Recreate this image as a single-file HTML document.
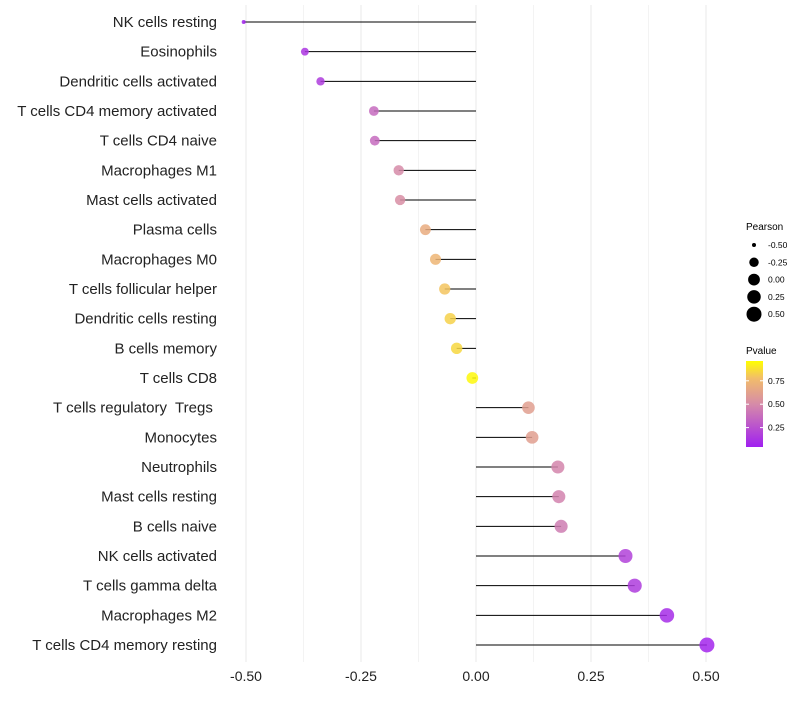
<!DOCTYPE html>
<html><head><meta charset="utf-8"><style>
body{margin:0;background:#fff;font-family:"Liberation Sans",sans-serif}
svg text{font-family:"Liberation Sans",sans-serif;white-space:pre}
</style></head><body>
<svg id="chart" width="800" height="700" xmlns="http://www.w3.org/2000/svg">
<defs><linearGradient id="pg" x1="0" y1="1" x2="0" y2="0">
<stop offset="0" stop-color="#a020f0"/><stop offset="0.5" stop-color="#d68ba8"/><stop offset="0.8" stop-color="#f2bd6a"/><stop offset="1" stop-color="#ffff00"/></linearGradient></defs>
<g id="grid"></g><g id="marks"></g><g id="labels"></g>
<g id="sizeLeg"><text x="746" y="230" font-size="10">Pearson</text></g>
<g id="colLeg"><text x="746" y="354" font-size="10">Pvalue</text>
<rect x="746" y="361" width="17" height="86" fill="url(#pg)"/></g>
</svg>
<script>
const categories=["NK cells resting","Eosinophils","Dendritic cells activated","T cells CD4 memory activated","T cells CD4 naive","Macrophages M1","Mast cells activated","Plasma cells","Macrophages M0","T cells follicular helper","Dendritic cells resting","B cells memory","T cells CD8","T cells regulatory  Tregs ","Monocytes","Neutrophils","Mast cells resting","B cells naive","NK cells activated","T cells gamma delta","Macrophages M2","T cells CD4 memory resting"];
const pearson=[-0.505,-0.372,-0.338,-0.222,-0.22,-0.168,-0.165,-0.11,-0.088,-0.068,-0.056,-0.042,-0.008,0.114,0.122,0.178,0.18,0.185,0.325,0.345,0.415,0.502];
const pvalue=[0.02,0.1,0.13,0.35,0.35,0.5,0.52,0.7,0.75,0.82,0.86,0.88,0.98,0.62,0.62,0.47,0.46,0.43,0.16,0.13,0.06,0.03];
const xTicks=[-0.5,-0.25,0,0.25,0.5];
const xTickLabels=["-0.50","-0.25","0.00","0.25","0.50"];
const sizeLegVals=[-0.5,-0.25,0,0.25,0.5];
const colLegVals=[0.25,0.5,0.75];
const NS="http://www.w3.org/2000/svg";
const x=v=>476+v*460;
const y=i=>22+i*(623/21);
const r=v=>2+5.5*Math.sqrt(Math.max(0,v+0.5));
function lerp(a,b,t){return a.map((c,i)=>Math.round(c+(b[i]-c)*t));}
function col(p){const s=[[0,[160,32,240]],[0.5,[214,139,168]],[0.8,[242,189,106]],[1,[255,255,0]]];
for(let i=1;i<s.length;i++){if(p<=s[i][0]){const t=(p-s[i-1][0])/(s[i][0]-s[i-1][0]);return "rgb("+lerp(s[i-1][1],s[i][1],t).join(",")+")";}}return "rgb(255,255,0)";}
function mk(t,a,p){const e=document.createElementNS(NS,t);for(const k in a)e.setAttribute(k,a[k]);p.appendChild(e);return e;}
const grid=document.getElementById('grid'),marks=document.getElementById('marks'),labels=document.getElementById('labels');
for(let v=-0.5;v<=0.5001;v+=0.125){const l=mk('line',{x1:x(v),x2:x(v),y1:5,y2:662,stroke:'#ebebeb','stroke-width':Math.abs(v*4-Math.round(v*4))<1e-6?1.1:0.6},grid);
}
xTicks.forEach((v,i)=>{const t=mk('text',{x:x(v),y:681,'font-size':14,'text-anchor':'middle',fill:'#222'},labels);t.textContent=xTickLabels[i];
});
categories.forEach((c,i)=>{
const t=mk('text',{x:217,y:y(i)+5,'font-size':15,'text-anchor':'end',fill:'#222','xml:space':'preserve'},labels);t.textContent=c;

const ln=mk('line',{x1:x(0),x2:x(pearson[i]),y1:y(i),y2:y(i),stroke:'#000','stroke-width':1},marks);

const d=mk('circle',{cx:x(pearson[i]),cy:y(i),r:r(pearson[i]),fill:col(pvalue[i]),'fill-opacity':0.85},marks);

});
const sl=document.getElementById('sizeLeg');
sizeLegVals.forEach((v,i)=>{const yy=245+i*17.3;
const c=mk('circle',{cx:754,cy:yy,r:r(v),fill:'#000'},sl);
const t=mk('text',{x:768,y:yy+3,'font-size':8.5},sl);t.textContent=v.toFixed(2);});
const cl=document.getElementById('colLeg');
colLegVals.forEach(v=>{const yy=451-v*93.6;
mk('line',{x1:746,x2:749,y1:yy,y2:yy,stroke:'#fff'},cl);mk('line',{x1:760,x2:763,y1:yy,y2:yy,stroke:'#fff'},cl);
const t=mk('text',{x:768,y:yy+3,'font-size':8.5},cl);t.textContent=v.toFixed(2);});
</script>
</body></html>
